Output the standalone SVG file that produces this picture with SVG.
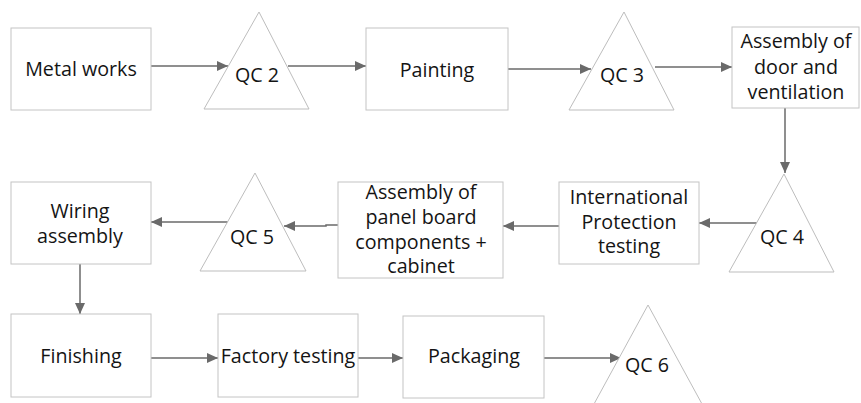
<svg xmlns="http://www.w3.org/2000/svg" width="861" height="403" viewBox="0 0 861 403">
  <style>
    .box { fill: #ffffff; stroke: #c4c4c4; stroke-width: 1; }
    .tri { fill: #ffffff; stroke: #bdbdbd; stroke-width: 1; }
    .lbl { font-family: "Open Sans", "Liberation Sans", sans-serif; font-size: 19.7px; fill: #141414; text-anchor: middle; }
    .edge { fill: none; stroke: #6a6a6a; stroke-width: 1.5; marker-end: url(#arrow); }
  </style>
  <defs>
    <marker id="arrow" markerUnits="userSpaceOnUse" markerWidth="11" markerHeight="10" refX="11" refY="5" orient="auto">
      <path d="M0,0 L11,5 L0,10 z" fill="#6a6a6a"/>
    </marker>
  </defs>
  <rect width="861" height="403" fill="#ffffff"/>

  <g id="connectors">
    <line class="edge" x1="151" y1="66" x2="228" y2="66"/>
    <line class="edge" x1="288" y1="66" x2="366" y2="66"/>
    <line class="edge" x1="508" y1="69" x2="591" y2="69"/>
    <line class="edge" x1="655" y1="67" x2="732" y2="67"/>
    <line class="edge" x1="785" y1="108" x2="785" y2="173"/>
    <line class="edge" x1="757" y1="223" x2="699" y2="223"/>
    <line class="edge" x1="559" y1="226" x2="503" y2="226"/>
    <polyline class="edge" points="338,225 326,225 326,226 284,226"/>
    <line class="edge" x1="229" y1="222" x2="151" y2="222"/>
    <line class="edge" x1="80" y1="264" x2="80" y2="314"/>
    <line class="edge" x1="151" y1="358" x2="218" y2="358"/>
    <line class="edge" x1="358" y1="358" x2="403" y2="358"/>
    <line class="edge" x1="544" y1="358" x2="621" y2="358"/>
  </g>

  <g id="metal-works">
    <rect class="box" x="11" y="28" width="140" height="82"/>
    <text class="lbl" x="81" y="76">Metal works</text>
  </g>
  <g id="qc2">
    <polygon class="tri" points="259,12 309,109 204,109"/>
    <text class="lbl" x="257" y="82">QC 2</text>
  </g>
  <g id="painting">
    <rect class="box" x="366" y="28" width="142" height="82"/>
    <text class="lbl" x="437" y="77">Painting</text>
  </g>
  <g id="qc3">
    <polygon class="tri" points="624,12 674,110 569,110"/>
    <text class="lbl" x="622" y="82">QC 3</text>
  </g>
  <g id="assembly-door">
    <rect class="box" x="732" y="27" width="127" height="81"/>
    <text class="lbl" x="796" y="48">Assembly of</text>
    <text class="lbl" x="796" y="74">door and</text>
    <text class="lbl" x="796" y="99">ventilation</text>
  </g>
  <g id="qc4">
    <polygon class="tri" points="784,174 834,272 729,272"/>
    <text class="lbl" x="782" y="244">QC 4</text>
  </g>
  <g id="ip-testing">
    <rect class="box" x="559" y="182" width="140" height="82"/>
    <text class="lbl" x="629" y="204">International</text>
    <text class="lbl" x="629" y="229">Protection</text>
    <text class="lbl" x="629" y="253">testing</text>
  </g>
  <g id="assembly-panel">
    <rect class="box" x="338" y="182" width="165" height="96"/>
    <text class="lbl" x="421" y="199">Assembly of</text>
    <text class="lbl" x="421" y="224">panel board</text>
    <text class="lbl" x="421" y="249">components +</text>
    <text class="lbl" x="421" y="273">cabinet</text>
  </g>
  <g id="qc5">
    <polygon class="tri" points="255,173 306,271 200,271"/>
    <text class="lbl" x="252" y="244">QC 5</text>
  </g>
  <g id="wiring">
    <rect class="box" x="11" y="182" width="140" height="82"/>
    <text class="lbl" x="80" y="218">Wiring</text>
    <text class="lbl" x="80" y="243">assembly</text>
  </g>
  <g id="finishing">
    <rect class="box" x="11" y="314" width="140" height="83"/>
    <text class="lbl" x="81" y="363">Finishing</text>
  </g>
  <g id="factory-testing">
    <rect class="box" x="218" y="314" width="140" height="83"/>
    <text class="lbl" x="288" y="363">Factory testing</text>
  </g>
  <g id="packaging">
    <rect class="box" x="403" y="316" width="141" height="82"/>
    <text class="lbl" x="474" y="363">Packaging</text>
  </g>
  <g id="qc6">
    <polygon class="tri" points="648,305 702,404 594,404"/>
    <text class="lbl" x="647" y="372">QC 6</text>
  </g>
</svg>
